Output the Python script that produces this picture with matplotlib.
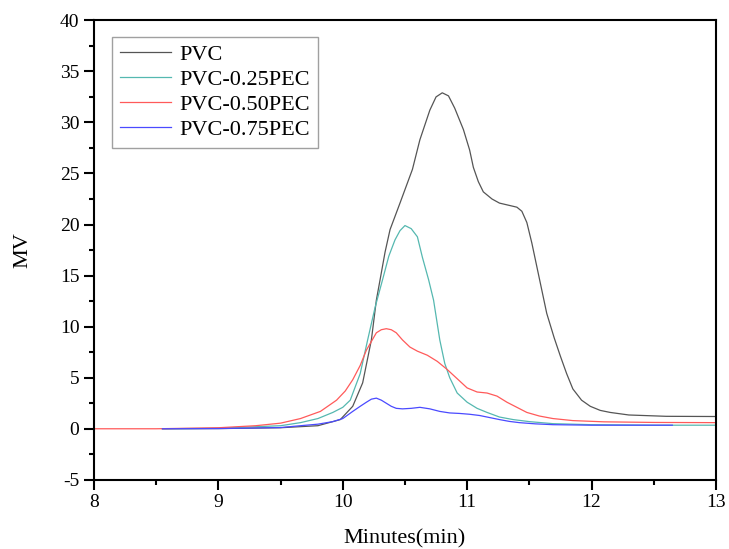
import matplotlib.pyplot as plt
from matplotlib.ticker import MultipleLocator

plt.rcParams['font.family'] = ['Liberation Serif', 'DejaVu Serif']
plt.rcParams['axes.unicode_minus'] = False

# PVC
pvc_t = [8.55, 9.0, 9.5, 9.8, 9.98, 10.08, 10.16, 10.23, 10.27, 10.3, 10.34, 10.38, 10.46,
         10.56, 10.62, 10.7, 10.75, 10.8, 10.85, 10.9, 10.97, 11.02, 11.05, 11.09, 11.13,
         11.2, 11.26, 11.33, 11.4, 11.44, 11.48, 11.52, 11.56, 11.64, 11.7, 11.75, 11.8,
         11.85, 11.92, 11.99, 12.07, 12.15, 12.3, 12.6, 13.0]
pvc_mv = [0.0, 0.02, 0.1, 0.3, 0.9, 2.2, 4.5, 8.7, 12.6, 14.6, 17.3, 19.5, 22.1,
          25.4, 28.3, 31.2, 32.5, 32.9, 32.6, 31.4, 29.3, 27.3, 25.6, 24.2, 23.2,
          22.5, 22.1, 21.9, 21.7, 21.3, 20.2, 18.2, 15.9, 11.3, 8.9, 7.1, 5.4,
          3.9, 2.8, 2.2, 1.8, 1.6, 1.35, 1.22, 1.2]

# PVC-0.25PEC
p25_t = [8.55, 9.0, 9.5, 9.66, 9.8, 9.92, 10.0, 10.06, 10.14, 10.2, 10.26, 10.32, 10.37,
         10.42, 10.46, 10.5, 10.55, 10.6, 10.64, 10.69, 10.73, 10.78, 10.82, 10.86, 10.92,
         11.0, 11.08, 11.16, 11.26, 11.37, 11.5, 11.69, 12.0, 12.5, 13.0]
p25_mv = [0.0, 0.05, 0.3, 0.6, 1.0, 1.6, 2.1, 2.8, 5.4, 8.7, 11.9, 14.6, 16.9,
          18.5, 19.4, 19.9, 19.6, 18.8, 16.8, 14.6, 12.6, 8.7, 6.4, 5.0, 3.5,
          2.6, 2.0, 1.6, 1.15, 0.9, 0.7, 0.5, 0.4, 0.35, 0.35]

# PVC-0.50PEC
p50_t = [8.0, 8.5, 9.0, 9.3, 9.5, 9.66, 9.82, 9.95, 10.02, 10.08, 10.14, 10.19, 10.27,
         10.31, 10.35, 10.39, 10.43, 10.48, 10.54, 10.6, 10.68, 10.76, 10.84, 10.92, 11.0,
         11.08, 11.16, 11.24, 11.32, 11.4, 11.48, 11.58, 11.69, 11.85, 12.1, 12.5, 13.0]
p50_mv = [0.0, 0.0, 0.1, 0.3, 0.55, 1.0, 1.7, 2.8, 3.7, 4.8, 6.2, 7.7, 9.4,
          9.7, 9.8, 9.7, 9.4, 8.7, 8.0, 7.6, 7.2, 6.6, 5.8, 4.9, 4.0,
          3.6, 3.5, 3.2, 2.6, 2.1, 1.6, 1.25, 1.0, 0.8, 0.68, 0.62, 0.6]

# PVC-0.75PEC
p75_t = [8.55, 9.0, 9.5, 9.66, 9.8, 9.92, 10.0, 10.08, 10.14, 10.19, 10.23, 10.27, 10.31,
         10.35, 10.39, 10.43, 10.48, 10.55, 10.62, 10.7, 10.78, 10.86, 10.94, 11.02, 11.1,
         11.18, 11.26, 11.34, 11.42, 11.55, 11.69, 12.0, 12.65]
p75_mv = [0.0, 0.02, 0.12, 0.3, 0.45, 0.7, 1.0, 1.7, 2.2, 2.6, 2.9, 3.0, 2.8,
          2.5, 2.2, 2.0, 1.95, 2.0, 2.1, 1.95, 1.7, 1.55, 1.5, 1.42, 1.3,
          1.1, 0.9, 0.72, 0.6, 0.48, 0.4, 0.35, 0.35]

series = [
    ('PVC', pvc_t, pvc_mv, '#555555'),
    ('PVC-0.25PEC', p25_t, p25_mv, '#55b8b0'),
    ('PVC-0.50PEC', p50_t, p50_mv, '#ff5a5a'),
    ('PVC-0.75PEC', p75_t, p75_mv, '#4a4aff'),
]

fig = plt.figure(figsize=(7.29, 5.49), dpi=100)
ax = fig.add_axes([0.129, 0.126, 0.853, 0.837])

for label, t, mv, c in series:
    ax.plot(t, mv, color=c, lw=0.9, label=label)

ax.set_xlim(8, 13)
ax.set_ylim(-5, 40)
ax.xaxis.set_major_locator(MultipleLocator(1))
ax.xaxis.set_minor_locator(MultipleLocator(0.5))
ax.yaxis.set_major_locator(MultipleLocator(5))
ax.yaxis.set_minor_locator(MultipleLocator(2.5))
ax.tick_params(which='major', direction='out', length=7, width=1.5, labelsize=14,
               top=False, right=False)
ax.tick_params(which='minor', direction='out', length=3.5, width=1.5, top=False, right=False)
for s in ax.spines.values():
    s.set_linewidth(1.5)

ax.set_xlabel('Minutes(min)', fontsize=16, labelpad=13)
ax.set_ylabel('MV', fontsize=16, labelpad=20)

leg = ax.legend(loc='upper left', bbox_to_anchor=(0.029, 0.964), borderaxespad=0,
                fontsize=16, frameon=True, fancybox=False, edgecolor='#888888',
                handlelength=2.3, handletextpad=0.4, labelspacing=0.2, borderpad=0.35)
leg.get_frame().set_linewidth(1.0)

fig.savefig('out.png', dpi=100)
